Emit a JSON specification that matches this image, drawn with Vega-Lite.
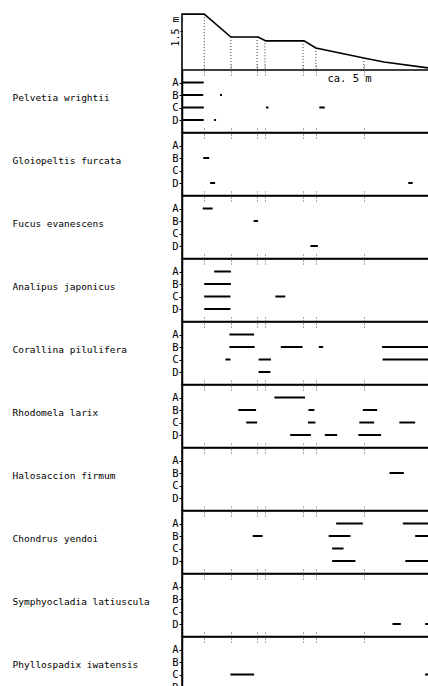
{
  "$schema": "https://vega.github.io/schema/vega-lite/v6.json",
  "padding": {"top": 10, "left": 11, "right": 0, "bottom": 0},
  "bounds": "flush",
  "spacing": 0,
  "config": {
    "view": {"stroke": null},
    "font": "DejaVu Sans Mono",
    "background": "white",
    "axisY": {"titleAngle": 0, "titleAlign": "left", "titleBaseline": "middle", "titleX": -170, "titleY": 27,
              "titleFont": "DejaVu Sans Mono", "titleFontSize": 9.5, "titleFontWeight": "normal", "titleColor": "black",
              "labelFont": "DejaVu Sans Mono", "labelFontSize": 10.5, "labelColor": "black", "grid": false}
  },
  "datasets": {
    "profile": [
      {"i": 0, "x": 0, "elev": 0},
      {"i": 1, "x": 0, "elev": 2.15},
      {"i": 2, "x": 0.45, "elev": 2.15},
      {"i": 3, "x": 0.99, "elev": 1.27},
      {"i": 4, "x": 1.54, "elev": 1.27},
      {"i": 5, "x": 1.70, "elev": 1.12},
      {"i": 6, "x": 2.47, "elev": 1.12},
      {"i": 7, "x": 2.71, "elev": 0.85},
      {"i": 8, "x": 3.68, "elev": 0.46},
      {"i": 9, "x": 4.09, "elev": 0.31},
      {"i": 10, "x": 4.98, "elev": 0.08}
    ],
    "breaks": [
      {"x": 0.45, "elev": 2.15},
      {"x": 0.99, "elev": 1.27},
      {"x": 1.52, "elev": 1.27},
      {"x": 1.68, "elev": 1.14},
      {"x": 2.45, "elev": 1.12},
      {"x": 2.71, "elev": 0.85},
      {"x": 3.68, "elev": 0.46}
    ],
    "segments": [
      {"species": "Pelvetia wrightii", "row": "A", "from": 0.0, "to": 0.44},
      {"species": "Pelvetia wrightii", "row": "B", "from": 0.0, "to": 0.43},
      {"species": "Pelvetia wrightii", "row": "B", "from": 0.77, "to": 0.81},
      {"species": "Pelvetia wrightii", "row": "C", "from": 0.0, "to": 0.44},
      {"species": "Pelvetia wrightii", "row": "C", "from": 1.70, "to": 1.75},
      {"species": "Pelvetia wrightii", "row": "C", "from": 2.78, "to": 2.89},
      {"species": "Pelvetia wrightii", "row": "D", "from": 0.0, "to": 0.44},
      {"species": "Pelvetia wrightii", "row": "D", "from": 0.65, "to": 0.69},
      {"species": "Gloiopeltis furcata", "row": "B", "from": 0.43, "to": 0.55},
      {"species": "Gloiopeltis furcata", "row": "D", "from": 0.57, "to": 0.67},
      {"species": "Gloiopeltis furcata", "row": "D", "from": 4.58, "to": 4.67},
      {"species": "Fucus evanescens", "row": "A", "from": 0.42, "to": 0.62},
      {"species": "Fucus evanescens", "row": "B", "from": 1.45, "to": 1.54},
      {"species": "Fucus evanescens", "row": "D", "from": 2.60, "to": 2.75},
      {"species": "Analipus japonicus", "row": "A", "from": 0.65, "to": 0.99},
      {"species": "Analipus japonicus", "row": "B", "from": 0.45, "to": 0.99},
      {"species": "Analipus japonicus", "row": "C", "from": 0.45, "to": 0.98},
      {"species": "Analipus japonicus", "row": "C", "from": 1.89, "to": 2.09},
      {"species": "Analipus japonicus", "row": "D", "from": 0.45, "to": 0.98},
      {"species": "Corallina pilulifera", "row": "A", "from": 0.96, "to": 1.46},
      {"species": "Corallina pilulifera", "row": "B", "from": 0.96, "to": 1.47},
      {"species": "Corallina pilulifera", "row": "B", "from": 2.00, "to": 2.44},
      {"species": "Corallina pilulifera", "row": "B", "from": 2.77, "to": 2.86},
      {"species": "Corallina pilulifera", "row": "B", "from": 4.05, "to": 5.0},
      {"species": "Corallina pilulifera", "row": "C", "from": 0.88, "to": 0.98},
      {"species": "Corallina pilulifera", "row": "C", "from": 1.55, "to": 1.80},
      {"species": "Corallina pilulifera", "row": "C", "from": 4.06, "to": 5.0},
      {"species": "Corallina pilulifera", "row": "D", "from": 1.55, "to": 1.79},
      {"species": "Rhodomela larix", "row": "A", "from": 1.87, "to": 2.49},
      {"species": "Rhodomela larix", "row": "B", "from": 1.14, "to": 1.50},
      {"species": "Rhodomela larix", "row": "B", "from": 2.56, "to": 2.68},
      {"species": "Rhodomela larix", "row": "B", "from": 3.66, "to": 3.95},
      {"species": "Rhodomela larix", "row": "C", "from": 1.30, "to": 1.52},
      {"species": "Rhodomela larix", "row": "C", "from": 2.55, "to": 2.70},
      {"species": "Rhodomela larix", "row": "C", "from": 3.59, "to": 3.89},
      {"species": "Rhodomela larix", "row": "C", "from": 4.40, "to": 4.72},
      {"species": "Rhodomela larix", "row": "D", "from": 2.19, "to": 2.61},
      {"species": "Rhodomela larix", "row": "D", "from": 2.89, "to": 3.14},
      {"species": "Rhodomela larix", "row": "D", "from": 3.57, "to": 4.03},
      {"species": "Halosaccion firmum", "row": "B", "from": 4.20, "to": 4.49},
      {"species": "Chondrus yendoi", "row": "A", "from": 3.12, "to": 3.66},
      {"species": "Chondrus yendoi", "row": "A", "from": 4.47, "to": 5.0},
      {"species": "Chondrus yendoi", "row": "B", "from": 1.43, "to": 1.63},
      {"species": "Chondrus yendoi", "row": "B", "from": 2.97, "to": 3.41},
      {"species": "Chondrus yendoi", "row": "B", "from": 4.72, "to": 5.0},
      {"species": "Chondrus yendoi", "row": "C", "from": 3.04, "to": 3.27},
      {"species": "Chondrus yendoi", "row": "D", "from": 3.04, "to": 3.51},
      {"species": "Chondrus yendoi", "row": "D", "from": 4.52, "to": 5.0},
      {"species": "Symphyocladia latiuscula", "row": "D", "from": 4.26, "to": 4.43},
      {"species": "Symphyocladia latiuscula", "row": "D", "from": 4.92, "to": 5.0},
      {"species": "Phyllospadix iwatensis", "row": "C", "from": 0.98, "to": 1.46},
      {"species": "Phyllospadix iwatensis", "row": "C", "from": 4.92, "to": 5.0},
      {"species": "Phyllospadix iwatensis", "row": "D", "from": 3.93, "to": 4.18}
    ]
  },
  "vconcat": [
    {
      "width": 247,
      "height": 60,
      "layer": [
        {
          "data": {"name": "breaks"},
          "mark": {"type": "rule", "strokeDash": [1, 2], "strokeWidth": 1, "color": "#333"},
          "encoding": {
            "x": {"field": "x", "type": "quantitative"},
            "y": {"field": "elev", "type": "quantitative"},
            "y2": {"datum": 0}
          }
        },
        {
          "data": {"name": "profile"},
          "mark": {"type": "line", "color": "black", "strokeWidth": 1.6},
          "encoding": {
            "x": {"field": "x", "type": "quantitative",
                  "scale": {"domain": [0, 5], "nice": false},
                  "axis": {"orient": "bottom", "domain": false, "ticks": false, "labels": false, "grid": false,
                           "title": "ca. 5 m", "titleX": 167, "titleY": 8, "titleBaseline": "middle",
                           "titleFont": "DejaVu Sans Mono", "titleFontSize": 10.5, "titleFontWeight": "normal", "titleColor": "black"}},
            "y": {"field": "elev", "type": "quantitative",
                  "scale": {"domain": [0, 2.31], "nice": false},
                  "axis": {"values": [1.5], "labelExpr": "'1.5 m'", "labelAngle": -90, "labelAlign": "center",
                           "labelBaseline": "bottom", "labelPadding": 0, "labelFontSize": 10, "domain": false,
                           "tickSize": 2, "tickColor": "black", "title": null}},
            "order": {"field": "i", "type": "quantitative"}
          }
        }
      ]
    },
    {
      "data": {"name": "segments"}, "transform": [{"filter": "datum.species === 'Pelvetia wrightii'"}],
      "width": 247, "height": 62.5, "view": {"stroke": "black", "strokeWidth": 1.5},
      "mark": {"type": "rule", "color": "black", "strokeWidth": 2},
      "encoding": {
        "x": {"field": "from", "type": "quantitative", "scale": {"domain": [0, 5], "nice": false},
              "axis": {"orient": "top", "values": [0.45, 0.99, 1.52, 1.68, 2.45, 2.71, 3.68], "domain": false, "labels": false, "grid": false, "title": null, "tickSize": 10, "offset": -5, "tickDash": [1, 2], "tickColor": "#555", "tickWidth": 1}},
        "x2": {"field": "to"},
        "y": {"field": "row", "type": "nominal", "scale": {"type": "point", "domain": ["A", "B", "C", "D"], "padding": 1},
              "axis": {"title": "Pelvetia wrightii", "domain": true, "domainColor": "black", "domainWidth": 1.5, "tickSize": 3, "tickColor": "black", "labelPadding": 1}}
      }
    },
    {
      "data": {"name": "segments"}, "transform": [{"filter": "datum.species === 'Gloiopeltis furcata'"}],
      "width": 247, "height": 62.5, "view": {"stroke": "black", "strokeWidth": 1.5},
      "mark": {"type": "rule", "color": "black", "strokeWidth": 2},
      "encoding": {
        "x": {"field": "from", "type": "quantitative", "scale": {"domain": [0, 5], "nice": false},
              "axis": {"orient": "top", "values": [0.45, 0.99, 1.52, 1.68, 2.45, 2.71, 3.68], "domain": false, "labels": false, "grid": false, "title": null, "tickSize": 10, "offset": -5, "tickDash": [1, 2], "tickColor": "#555", "tickWidth": 1}},
        "x2": {"field": "to"},
        "y": {"field": "row", "type": "nominal", "scale": {"type": "point", "domain": ["A", "B", "C", "D"], "padding": 1},
              "axis": {"title": "Gloiopeltis furcata", "domain": true, "domainColor": "black", "domainWidth": 1.5, "tickSize": 3, "tickColor": "black", "labelPadding": 1}}
      }
    },
    {
      "data": {"name": "segments"}, "transform": [{"filter": "datum.species === 'Fucus evanescens'"}],
      "width": 247, "height": 62.5, "view": {"stroke": "black", "strokeWidth": 1.5},
      "mark": {"type": "rule", "color": "black", "strokeWidth": 2},
      "encoding": {
        "x": {"field": "from", "type": "quantitative", "scale": {"domain": [0, 5], "nice": false},
              "axis": {"orient": "top", "values": [0.45, 0.99, 1.52, 1.68, 2.45, 2.71, 3.68], "domain": false, "labels": false, "grid": false, "title": null, "tickSize": 10, "offset": -5, "tickDash": [1, 2], "tickColor": "#555", "tickWidth": 1}},
        "x2": {"field": "to"},
        "y": {"field": "row", "type": "nominal", "scale": {"type": "point", "domain": ["A", "B", "C", "D"], "padding": 1},
              "axis": {"title": "Fucus evanescens", "domain": true, "domainColor": "black", "domainWidth": 1.5, "tickSize": 3, "tickColor": "black", "labelPadding": 1}}
      }
    },
    {
      "data": {"name": "segments"}, "transform": [{"filter": "datum.species === 'Analipus japonicus'"}],
      "width": 247, "height": 62.5, "view": {"stroke": "black", "strokeWidth": 1.5},
      "mark": {"type": "rule", "color": "black", "strokeWidth": 2},
      "encoding": {
        "x": {"field": "from", "type": "quantitative", "scale": {"domain": [0, 5], "nice": false},
              "axis": {"orient": "top", "values": [0.45, 0.99, 1.52, 1.68, 2.45, 2.71, 3.68], "domain": false, "labels": false, "grid": false, "title": null, "tickSize": 10, "offset": -5, "tickDash": [1, 2], "tickColor": "#555", "tickWidth": 1}},
        "x2": {"field": "to"},
        "y": {"field": "row", "type": "nominal", "scale": {"type": "point", "domain": ["A", "B", "C", "D"], "padding": 1},
              "axis": {"title": "Analipus japonicus", "domain": true, "domainColor": "black", "domainWidth": 1.5, "tickSize": 3, "tickColor": "black", "labelPadding": 1}}
      }
    },
    {
      "data": {"name": "segments"}, "transform": [{"filter": "datum.species === 'Corallina pilulifera'"}],
      "width": 247, "height": 62.5, "view": {"stroke": "black", "strokeWidth": 1.5},
      "mark": {"type": "rule", "color": "black", "strokeWidth": 2},
      "encoding": {
        "x": {"field": "from", "type": "quantitative", "scale": {"domain": [0, 5], "nice": false},
              "axis": {"orient": "top", "values": [0.45, 0.99, 1.52, 1.68, 2.45, 2.71, 3.68], "domain": false, "labels": false, "grid": false, "title": null, "tickSize": 10, "offset": -5, "tickDash": [1, 2], "tickColor": "#555", "tickWidth": 1}},
        "x2": {"field": "to"},
        "y": {"field": "row", "type": "nominal", "scale": {"type": "point", "domain": ["A", "B", "C", "D"], "padding": 1},
              "axis": {"title": "Corallina pilulifera", "domain": true, "domainColor": "black", "domainWidth": 1.5, "tickSize": 3, "tickColor": "black", "labelPadding": 1}}
      }
    },
    {
      "data": {"name": "segments"}, "transform": [{"filter": "datum.species === 'Rhodomela larix'"}],
      "width": 247, "height": 62.5, "view": {"stroke": "black", "strokeWidth": 1.5},
      "mark": {"type": "rule", "color": "black", "strokeWidth": 2},
      "encoding": {
        "x": {"field": "from", "type": "quantitative", "scale": {"domain": [0, 5], "nice": false},
              "axis": {"orient": "top", "values": [0.45, 0.99, 1.52, 1.68, 2.45, 2.71, 3.68], "domain": false, "labels": false, "grid": false, "title": null, "tickSize": 10, "offset": -5, "tickDash": [1, 2], "tickColor": "#555", "tickWidth": 1}},
        "x2": {"field": "to"},
        "y": {"field": "row", "type": "nominal", "scale": {"type": "point", "domain": ["A", "B", "C", "D"], "padding": 1},
              "axis": {"title": "Rhodomela larix", "domain": true, "domainColor": "black", "domainWidth": 1.5, "tickSize": 3, "tickColor": "black", "labelPadding": 1}}
      }
    },
    {
      "data": {"name": "segments"}, "transform": [{"filter": "datum.species === 'Halosaccion firmum'"}],
      "width": 247, "height": 62.5, "view": {"stroke": "black", "strokeWidth": 1.5},
      "mark": {"type": "rule", "color": "black", "strokeWidth": 2},
      "encoding": {
        "x": {"field": "from", "type": "quantitative", "scale": {"domain": [0, 5], "nice": false},
              "axis": {"orient": "top", "values": [0.45, 0.99, 1.52, 1.68, 2.45, 2.71, 3.68], "domain": false, "labels": false, "grid": false, "title": null, "tickSize": 10, "offset": -5, "tickDash": [1, 2], "tickColor": "#555", "tickWidth": 1}},
        "x2": {"field": "to"},
        "y": {"field": "row", "type": "nominal", "scale": {"type": "point", "domain": ["A", "B", "C", "D"], "padding": 1},
              "axis": {"title": "Halosaccion firmum", "domain": true, "domainColor": "black", "domainWidth": 1.5, "tickSize": 3, "tickColor": "black", "labelPadding": 1}}
      }
    },
    {
      "data": {"name": "segments"}, "transform": [{"filter": "datum.species === 'Chondrus yendoi'"}],
      "width": 247, "height": 62.5, "view": {"stroke": "black", "strokeWidth": 1.5},
      "mark": {"type": "rule", "color": "black", "strokeWidth": 2},
      "encoding": {
        "x": {"field": "from", "type": "quantitative", "scale": {"domain": [0, 5], "nice": false},
              "axis": {"orient": "top", "values": [0.45, 0.99, 1.52, 1.68, 2.45, 2.71, 3.68], "domain": false, "labels": false, "grid": false, "title": null, "tickSize": 10, "offset": -5, "tickDash": [1, 2], "tickColor": "#555", "tickWidth": 1}},
        "x2": {"field": "to"},
        "y": {"field": "row", "type": "nominal", "scale": {"type": "point", "domain": ["A", "B", "C", "D"], "padding": 1},
              "axis": {"title": "Chondrus yendoi", "domain": true, "domainColor": "black", "domainWidth": 1.5, "tickSize": 3, "tickColor": "black", "labelPadding": 1}}
      }
    },
    {
      "data": {"name": "segments"}, "transform": [{"filter": "datum.species === 'Symphyocladia latiuscula'"}],
      "width": 247, "height": 62.5, "view": {"stroke": "black", "strokeWidth": 1.5},
      "mark": {"type": "rule", "color": "black", "strokeWidth": 2},
      "encoding": {
        "x": {"field": "from", "type": "quantitative", "scale": {"domain": [0, 5], "nice": false},
              "axis": {"orient": "top", "values": [0.45, 0.99, 1.52, 1.68, 2.45, 2.71, 3.68], "domain": false, "labels": false, "grid": false, "title": null, "tickSize": 10, "offset": -5, "tickDash": [1, 2], "tickColor": "#555", "tickWidth": 1}},
        "x2": {"field": "to"},
        "y": {"field": "row", "type": "nominal", "scale": {"type": "point", "domain": ["A", "B", "C", "D"], "padding": 1},
              "axis": {"title": "Symphyocladia latiuscula", "domain": true, "domainColor": "black", "domainWidth": 1.5, "tickSize": 3, "tickColor": "black", "labelPadding": 1}}
      }
    },
    {
      "data": {"name": "segments"}, "transform": [{"filter": "datum.species === 'Phyllospadix iwatensis'"}],
      "width": 247, "height": 62.5, "view": {"stroke": "black", "strokeWidth": 1.5},
      "mark": {"type": "rule", "color": "black", "strokeWidth": 2},
      "encoding": {
        "x": {"field": "from", "type": "quantitative", "scale": {"domain": [0, 5], "nice": false},
              "axis": {"orient": "top", "values": [0.45, 0.99, 1.52, 1.68, 2.45, 2.71, 3.68], "domain": false, "labels": false, "grid": false, "title": null, "tickSize": 10, "offset": -5, "tickDash": [1, 2], "tickColor": "#555", "tickWidth": 1}},
        "x2": {"field": "to"},
        "y": {"field": "row", "type": "nominal", "scale": {"type": "point", "domain": ["A", "B", "C", "D"], "padding": 1},
              "axis": {"title": "Phyllospadix iwatensis", "domain": true, "domainColor": "black", "domainWidth": 1.5, "tickSize": 3, "tickColor": "black", "labelPadding": 1}}
      }
    }
  ]
}
